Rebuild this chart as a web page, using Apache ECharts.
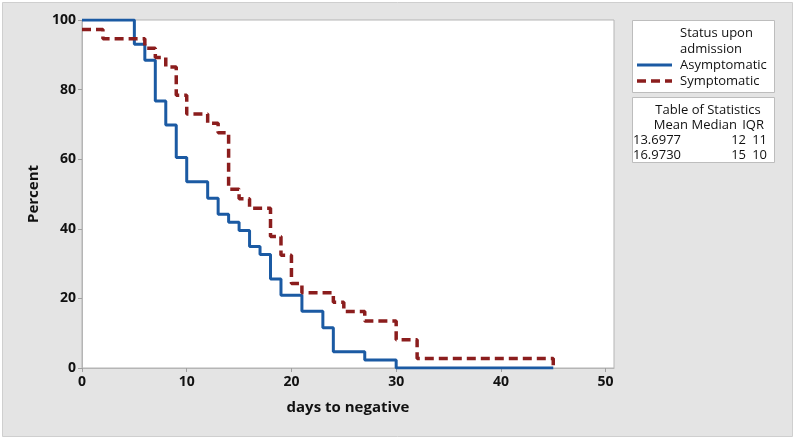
<!DOCTYPE html>
<html>
<head>
<meta charset="utf-8">
<script src="https://cdn.jsdelivr.net/npm/echarts@6/dist/echarts.min.js"></script>
<style>
html,body{margin:0;padding:0;background:#ffffff;}
#chart{width:795px;height:439px;}
</style>
</head>
<body>
<div id="chart"></div>
<script>
// Kaplan-Meier style step data
const asymDays = [0, 5, 6, 7, 8, 9, 10, 12, 13, 14, 15, 16, 17, 18, 19, 21, 23, 24, 27, 30, 45];
const asymPct  = [100, 93.0, 88.4, 76.7, 69.8, 60.5, 53.5, 48.8, 44.2, 41.9, 39.5, 34.9, 32.6, 25.6, 20.9, 16.3, 11.6, 4.7, 2.3, 0, 0];
const sympDays = [0, 2, 6, 7, 8, 9, 10, 12, 13, 14, 15, 16, 18, 19, 20, 21, 24, 25, 27, 30, 32, 45];
const sympPct  = [97.3, 94.6, 91.9, 89.2, 86.5, 78.4, 73.0, 70.3, 67.6, 51.4, 48.6, 45.9, 37.8, 32.4, 24.3, 21.6, 18.9, 16.2, 13.5, 8.1, 2.7, 0];
const seriesNames = ['Asymptomatic', 'Symptomatic'];
const xTicks = [0, 10, 20, 30, 40, 50];
const yTicks = [0, 20, 40, 60, 80, 100];
const statsHeader = ['Mean', 'Median', 'IQR'];
const statsRows = [['13.6977', '12', '11'], ['16.9730', '15', '10']];
const legendTitle = ['Status upon', 'admission'];
const statsTitle = 'Table of Statistics';

const FONT = '"Open Sans", "Liberation Sans", sans-serif';
const BLUE = '#1b5aa3';
const RED = '#8b1d1d';
const zip = (a, b) => a.map((v, i) => [v, b[i]]);

const chart = echarts.init(document.getElementById('chart'), null, {renderer: 'canvas'});

const txt = (x, y, s, align) => ({
  type: 'text', z: 10,
  style: {x: x, y: y, text: s, fill: '#111111', font: '13px ' + FONT, textAlign: align || 'left', textVerticalAlign: 'middle'}
});
const seg = (y, color, dash, w) => ({
  type: 'line', z: 10,
  shape: {x1: 637, y1: y, x2: 672, y2: y},
  style: {stroke: color, lineWidth: w, lineDash: dash}
});

const graphics = [
  {type: 'rect', z: -10, shape: {x: 2.5, y: 2.5, width: 790, height: 434}, style: {fill: '#e4e4e4', stroke: '#cfcfcf', lineWidth: 1}},
  {type: 'rect', z: 1, shape: {x: 632.5, y: 20.5, width: 142, height: 72}, style: {fill: '#ffffff', stroke: '#bdbdbd', lineWidth: 1}},
  {type: 'rect', z: 1, shape: {x: 632.5, y: 97.5, width: 142, height: 65}, style: {fill: '#ffffff', stroke: '#bdbdbd', lineWidth: 1}},
  txt(680, 33, legendTitle[0]),
  txt(680, 49, legendTitle[1]),
  seg(65, BLUE, null, 3),
  txt(680, 65, seriesNames[0]),
  seg(81, RED, [9, 5], 3.5),
  txt(680, 81, seriesNames[1]),
  txt(708, 110, statsTitle, 'center'),
  txt(688, 125, statsHeader[0], 'right'),
  txt(737, 125, statsHeader[1], 'right'),
  txt(764, 125, statsHeader[2], 'right'),
  txt(633, 140, statsRows[0][0], 'left'),
  txt(746, 140, statsRows[0][1], 'right'),
  txt(767, 140, statsRows[0][2], 'right'),
  txt(633, 155, statsRows[1][0], 'left'),
  txt(746, 155, statsRows[1][1], 'right'),
  txt(767, 155, statsRows[1][2], 'right')
];

const option = {
  animation: false,
  backgroundColor: 'transparent',
  grid: {left: 82, right: 181, top: 20, bottom: 71, show: true, backgroundColor: '#ffffff', borderColor: '#b5b5b5', borderWidth: 1},
  xAxis: {
    type: 'value', min: 0, max: 50.8, interval: 10,
    name: 'days to negative', nameLocation: 'middle', nameGap: 32,
    nameTextStyle: {fontFamily: FONT, fontSize: 15, fontWeight: 'bold', color: '#111111'},
    axisLine: {show: true, lineStyle: {color: '#b5b5b5'}},
    axisTick: {show: true, length: 4, lineStyle: {color: '#a0a0a0'}, customValues: xTicks},
    axisLabel: {fontFamily: FONT, fontSize: 14, fontWeight: 'bold', color: '#111111', margin: 7,
      customValues: xTicks,
      formatter: v => (xTicks.indexOf(v) >= 0 ? String(v) : '')},
    splitLine: {show: false}
  },
  yAxis: {
    type: 'value', min: 0, max: 100, interval: 20,
    name: 'Percent', nameLocation: 'middle', nameGap: 30, nameRotate: 90,
    nameTextStyle: {fontFamily: FONT, fontSize: 15, fontWeight: 'bold', color: '#111111'},
    axisLine: {show: true, lineStyle: {color: '#b5b5b5'}},
    axisTick: {show: true, length: 4, lineStyle: {color: '#a0a0a0'}},
    axisLabel: {fontFamily: FONT, fontSize: 14, fontWeight: 'bold', color: '#111111', margin: 6,
      formatter: v => (yTicks.indexOf(v) >= 0 ? String(v) : '')},
    splitLine: {show: false}
  },
  series: [
    {name: seriesNames[0], type: 'line', step: 'end', data: zip(asymDays, asymPct),
     showSymbol: false, symbol: 'none', clip: true,
     lineStyle: {color: BLUE, width: 3}, itemStyle: {color: BLUE}, z: 3},
    {name: seriesNames[1], type: 'line', step: 'end', data: zip(sympDays, sympPct),
     showSymbol: false, symbol: 'none', clip: true,
     lineStyle: {color: RED, width: 3.5, type: [9, 5]}, itemStyle: {color: RED}, z: 4}
  ],
  graphic: graphics
};
chart.setOption(option);
</script>
</body>
</html>
